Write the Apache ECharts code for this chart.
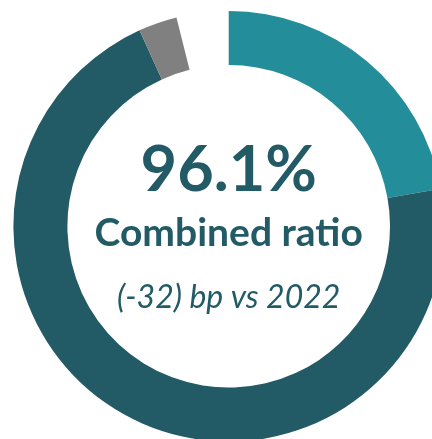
<!DOCTYPE html>
<html>
<head>
<meta charset="utf-8">
<style>
html,body{margin:0;padding:0;background:#fff;}
#c{width:432px;height:439px;}
</style>
<script src="https://cdn.jsdelivr.net/npm/echarts@6/dist/echarts.min.js"></script>
</head>
<body>
<div id="c"></div>
<script>
// Data
const categories = ['Expense ratio', 'Loss ratio', 'Other', 'Remainder'];
const values = [22.2, 71.0, 2.9, 3.9];
const colors = ['#238e99', '#225a66', '#808080', 'rgba(0,0,0,0)'];
const headline = '96.1%';
const subtitle = 'Combined ratio';
const note = '(-32) bp vs 2022';

const chart = echarts.init(document.getElementById('c'), null, {renderer: 'canvas'});
const cx = 228.7, cy = 226.3;
chart.setOption({
  animation: false,
  series: [{
    type: 'pie',
    center: [cx, cy],
    radius: [161.3, 215.3],
    startAngle: 90,
    clockwise: true,
    avoidLabelOverlap: false,
    label: {show: false},
    labelLine: {show: false},
    emphasis: {disabled: true},
    silent: true,
    data: categories.map((c, i) => ({
      name: c, value: values[i],
      itemStyle: {color: colors[i], borderWidth: 0}
    }))
  }],
  graphic: [
    {type: 'text', style: {
      text: headline, x: cx, y: 171, align: 'center', verticalAlign: 'middle',
      font: 'bold 63px Lato', fill: '#225a66'}},
    {type: 'text', style: {
      text: subtitle, x: cx, y: 233, align: 'center', verticalAlign: 'middle',
      font: 'bold 39px Lato', fill: '#225a66'}},
    {type: 'text', style: {
      text: note, x: cx, y: 298, align: 'center', verticalAlign: 'middle',
      font: 'italic 32px Lato', fill: '#225a66'}}
  ]
});
</script>
</body>
</html>
